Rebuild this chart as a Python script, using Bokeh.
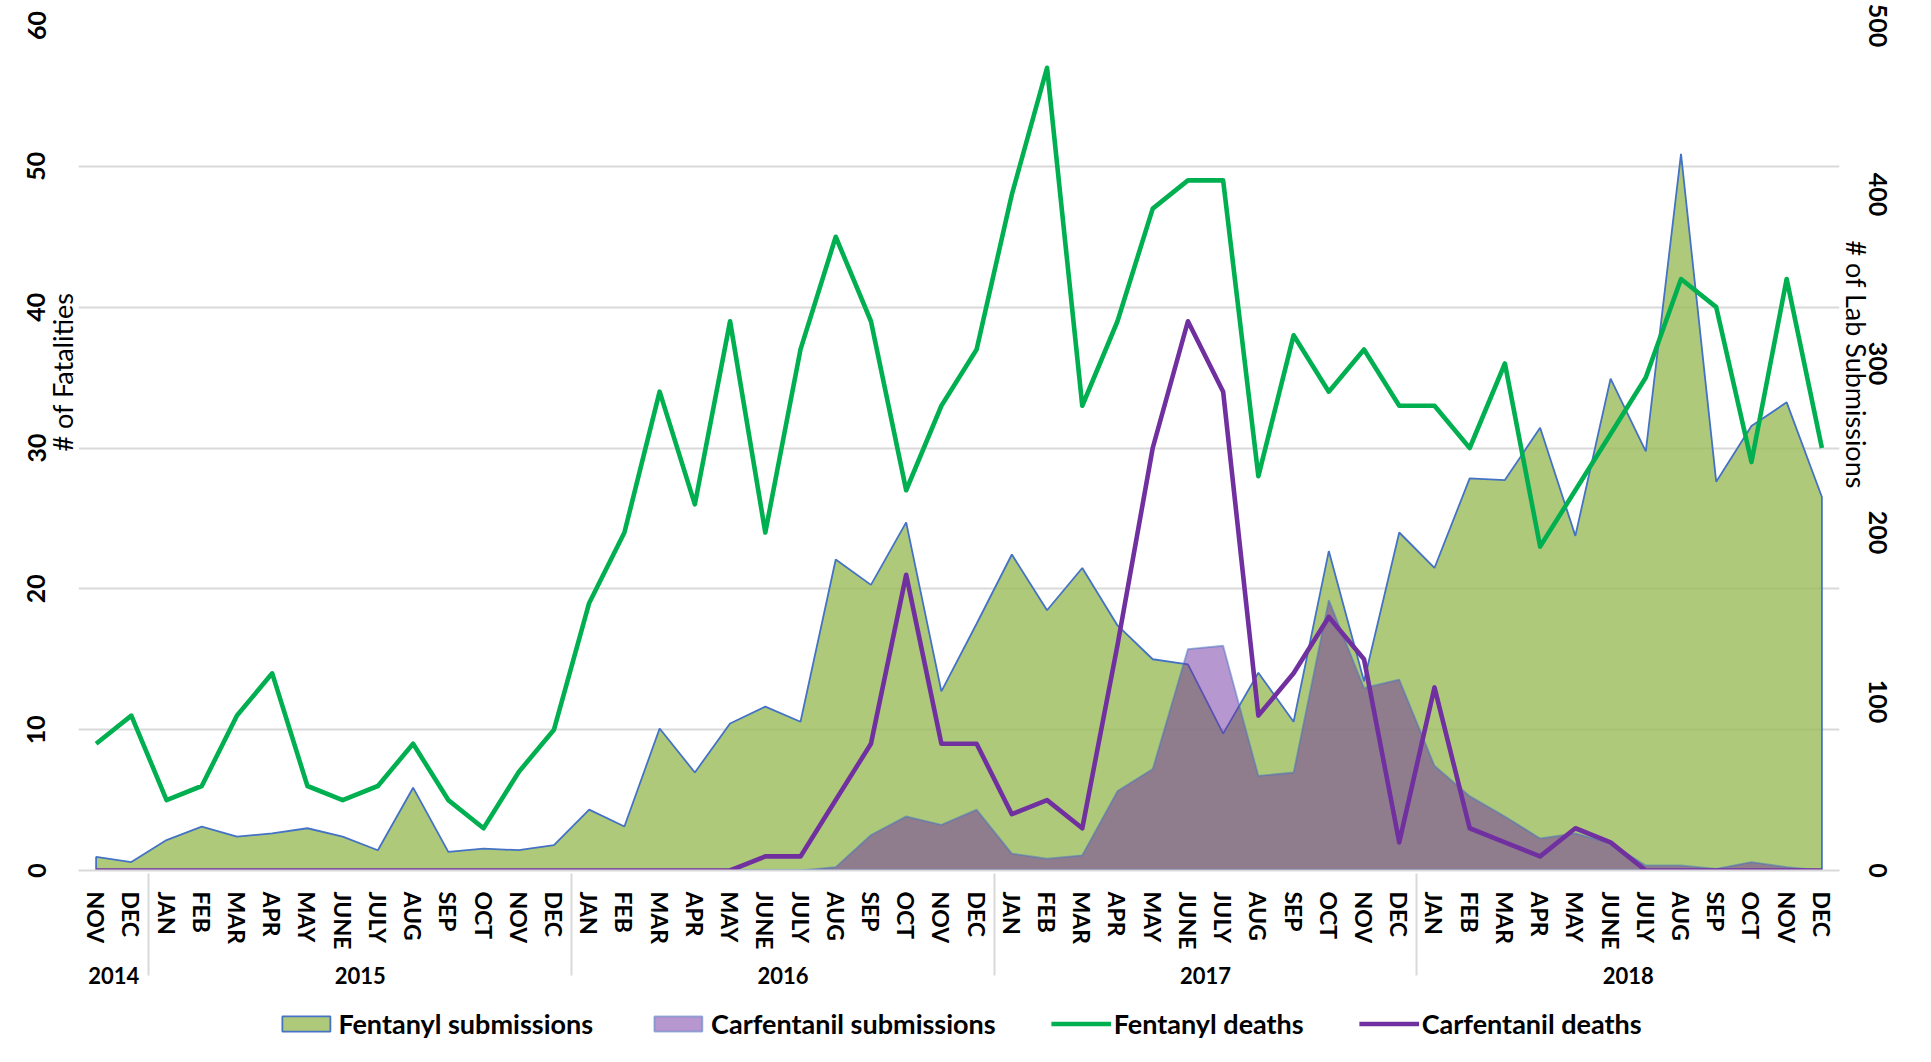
import math
from bokeh.plotting import figure
from bokeh.layouts import column
from bokeh.models import (FactorRange, Range1d, LinearAxis, FixedTicker,
                          Legend, LegendItem, Title)
from bokeh.embed import file_html
from bokeh.resources import INLINE

# ---------------- data ----------------
years = ["2014", "2015", "2016", "2017", "2018"]
months_2014 = ["NOV", "DEC"]
months_full = ["JAN", "FEB", "MAR", "APR", "MAY", "JUNE", "JULY", "AUG",
               "SEP", "OCT", "NOV", "DEC"]

fentanyl_deaths = [9, 11,
                   5, 6, 11, 14, 6, 5, 6, 9, 5, 3, 7, 10,
                   19, 24, 34, 26, 39, 24, 37, 45, 39, 27, 33, 37,
                   48, 57, 33, 39, 47, 49, 49, 28, 38, 34, 37, 33,
                   33, 30, 36, 23, 27, 31, 35, 42, 40, 29, 42, 30]

carfentanil_deaths = [0, 0,
                      0, 0, 0, 0, 0, 0, 0, 0, 0, 0, 0, 0,
                      0, 0, 0, 0, 0, 1, 1, 5, 9, 21, 9, 9,
                      4, 5, 3, 16, 30, 39, 34, 11, 14, 18, 15, 2,
                      13, 3, 2, 1, 3, 2, 0, 0, 0, 0, 0, 0]

fentanyl_submissions = [8, 5,
                        18, 26, 20, 22, 25, 20, 12, 49, 11, 13, 12, 15,
                        36, 26, 84, 58, 87, 97, 88, 184, 169, 206, 106, 146,
                        187, 154, 179, 145, 125, 122, 81, 117, 88, 189, 112, 200,
                        179, 232, 231, 262, 198, 291, 248, 424, 230, 263, 277, 221]

carfentanil_submissions = [0, 0,
                           0, 0, 0, 0, 0, 0, 0, 0, 0, 0, 0, 0,
                           0, 0, 0, 0, 0, 0, 0, 2, 21, 32, 27, 36,
                           10, 7, 9, 47, 60, 131, 133, 56, 58, 160, 108, 113,
                           62, 44, 32, 19, 22, 16, 3, 3, 1, 5, 2, 0]

left_ticks = [0, 10, 20, 30, 40, 50, 60]
right_ticks = [0, 100, 200, 300, 400, 500]

series_names = ["Fentanyl submissions", "Carfentanil submissions",
                "Fentanyl deaths", "Carfentanil deaths"]

factors = [("2014", m) for m in months_2014] + \
          [(y, m) for y in years[1:] for m in months_full]

# ---------------- styles ----------------
FONT = "Lato"
GREEN_FILL = "#9BBB59"
BLUE_EDGE = "#4472C4"
PURPLE = "#7030A0"
GREEN_LINE = "#00B050"
GRID = "#D9D9D9"

W = 1931
H_MAIN = 1007
H_LEG = 55

p = figure(width=W, height=H_MAIN,
           x_range=FactorRange(*factors, range_padding=0, group_padding=0,
                               subgroup_padding=0, factor_padding=0),
           y_range=Range1d(left_ticks[0], left_ticks[-1]),
           output_backend="svg", toolbar_location=None,
           min_border_left=78, min_border_right=92,
           min_border_top=25, min_border_bottom=137)
p.extra_y_ranges = {"subs": Range1d(right_ticks[0], right_ticks[-1])}
p.outline_line_color = None
p.background_fill_color = "white"
p.border_fill_color = "white"

area_styles = [dict(fill_color=GREEN_FILL, fill_alpha=0.8, line_color=BLUE_EDGE,
                    line_width=1.8),
               dict(fill_color=PURPLE, fill_alpha=0.5, line_color=BLUE_EDGE,
                    line_alpha=0.5, line_width=1.8)]
line_styles = [dict(line_color=GREEN_LINE, line_width=4.6, line_join="round"),
               dict(line_color=PURPLE, line_width=4.6, line_join="round")]

# areas (right axis)
base = [0] * 2
xs_patch = factors + [factors[-1], factors[0]]
p.patch(x=xs_patch, y=fentanyl_submissions + base, y_range_name="subs",
        **area_styles[0])
p.patch(x=xs_patch, y=carfentanil_submissions + base, y_range_name="subs",
        **area_styles[1])

# lines (left axis)
p.line(x=factors, y=fentanyl_deaths, **line_styles[0])
p.line(x=factors, y=carfentanil_deaths, **line_styles[1])

# grid
p.xgrid.visible = False
p.ygrid.grid_line_color = GRID
p.ygrid.grid_line_width = 2

# left axis
la = p.yaxis[0]
la.ticker = FixedTicker(ticks=left_ticks)
la.major_label_orientation = "parallel"
la.major_label_text_font = FONT
la.major_label_text_font_style = "bold"
la.major_label_text_font_size = "25px"
la.major_label_text_color = "black"
la.major_label_standoff = -8
la.axis_line_color = None
la.major_tick_line_color = None
la.minor_tick_line_color = None

# right axis
ra = LinearAxis(y_range_name="subs", ticker=FixedTicker(ticks=right_ticks))
ra.major_label_orientation = "parallel"
ra.major_label_text_font = FONT
ra.major_label_text_font_style = "bold"
ra.major_label_text_font_size = "25px"
ra.major_label_text_color = "black"
ra.major_label_standoff = -12
ra.axis_line_color = None
ra.major_tick_line_color = None
ra.minor_tick_line_color = None

# axis titles (between the frame and the tick labels, as in the reference)
left_title = Title(text="# of Fatalities", align="right", offset=267,
                   standoff=0, text_font=FONT, text_font_size="27px",
                   text_font_style="normal", text_color="black")
right_title = Title(text="# of Lab Submissions", align="left", offset=215,
                    standoff=0, text_font=FONT, text_font_size="27px",
                    text_font_style="normal", text_color="black")
p.left = [left_title, la]
p.right = [right_title, ra]

# x axis
xa = p.xaxis[0]
xa.major_label_orientation = "vertical"
xa.major_label_text_font = FONT
xa.major_label_text_font_style = "bold"
xa.major_label_text_font_size = "23px"
xa.major_label_text_color = "black"
xa.major_label_standoff = 15
xa.group_text_font = FONT
xa.group_text_font_style = "bold"
xa.group_text_font_size = "22px"
xa.group_text_color = "black"
xa.group_label_orientation = "horizontal"
xa.axis_line_color = GRID
xa.axis_line_width = 2
xa.major_tick_line_color = None
xa.minor_tick_line_color = None
xa.separator_line_color = GRID
xa.separator_line_width = 2

# ---------------- legend strip ----------------
# key renderers reuse the series but sit outside this strip's visible range
lf = figure(width=W, height=H_LEG, x_range=Range1d(0, 1), y_range=Range1d(-2, -1),
            x_axis_type=None, y_axis_type=None, output_backend="svg",
            toolbar_location=None, min_border=0, min_border_left=45)
lf.outline_line_color = None
lf.grid.visible = False
lf.background_fill_color = "white"
lf.border_fill_color = "white"
idx = list(range(len(factors)))
k1 = lf.patch(x=idx, y=fentanyl_submissions, **area_styles[0])
k2 = lf.patch(x=idx, y=carfentanil_submissions, **area_styles[1])
k3 = lf.line(x=idx, y=fentanyl_deaths, **line_styles[0])
k4 = lf.line(x=idx, y=carfentanil_deaths, **line_styles[1])

legend = Legend(items=[LegendItem(label=n, renderers=[r])
                       for n, r in zip(series_names, [k1, k2, k3, k4])],
                orientation="horizontal", location="top")
legend.label_text_font = FONT
legend.label_text_font_style = "bold"
legend.label_text_font_size = "27px"
legend.label_text_color = "black"
legend.glyph_width = 60
legend.glyph_height = 19
legend.label_standoff = 3
legend.spacing = 55
legend.padding = 4
legend.margin = 0
legend.border_line_color = None
legend.background_fill_alpha = 0
lf.add_layout(legend, "center")

layout = column(p, lf, spacing=0)
open("out.html", "w").write(file_html(layout, INLINE))
